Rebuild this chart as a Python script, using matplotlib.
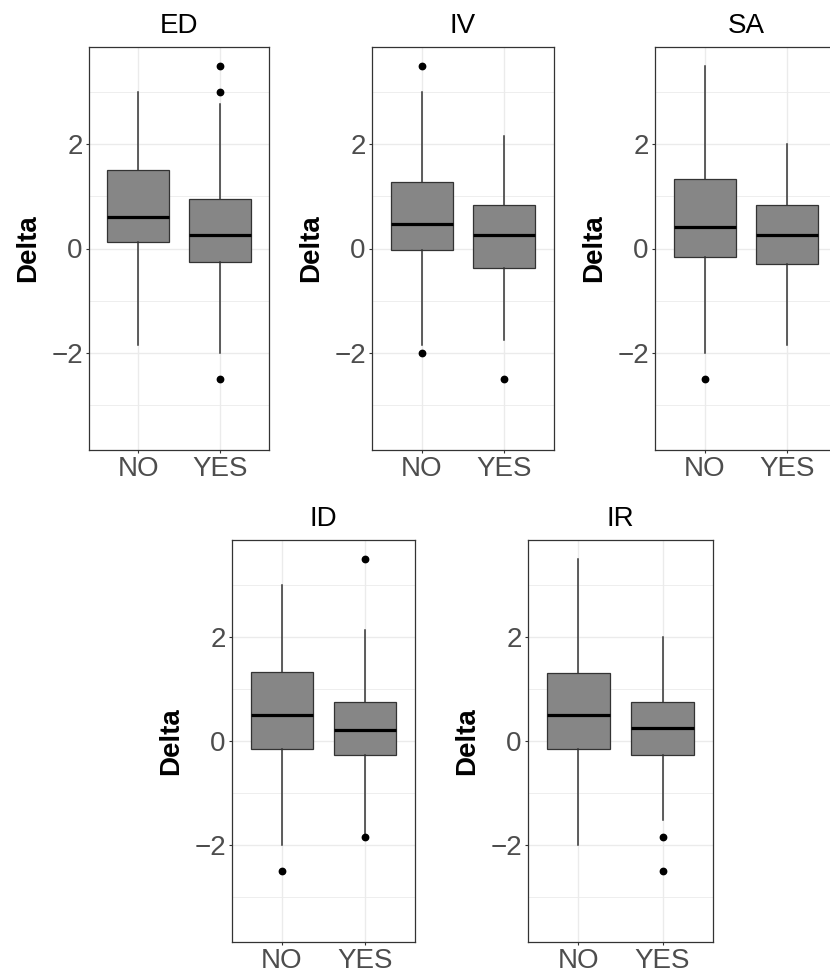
import numpy as np
import matplotlib
matplotlib.use("Agg")
import matplotlib.pyplot as plt

plt.rcParams['font.family'] = ['Liberation Sans', 'DejaVu Sans']

# panel names and groups
panels = ['ED', 'IV', 'SA', 'ID', 'IR']
groups = ['NO', 'YES']

# box statistics (one entry per panel)
whislo_no = [-1.84, -1.84, -2.0, -2.0, -2.0]
q1_no = [0.12, -0.02, -0.17, -0.16, -0.16]
med_no = [0.60, 0.47, 0.42, 0.50, 0.50]
q3_no = [1.50, 1.27, 1.33, 1.32, 1.31]
whishi_no = [3.0, 3.0, 3.5, 3.0, 3.5]
fliers_no = [[], [3.5, -2.0], [-2.5], [-2.5], []]

whislo_yes = [-2.0, -1.76, -1.84, -1.80, -1.51]
q1_yes = [-0.26, -0.38, -0.30, -0.26, -0.26]
med_yes = [0.25, 0.25, 0.25, 0.22, 0.25]
q3_yes = [0.95, 0.83, 0.83, 0.75, 0.75]
whishi_yes = [2.76, 2.15, 2.0, 2.13, 2.0]
fliers_yes = [[3.5, 3.0, -2.5], [-2.5], [], [3.5, -1.85], [-1.85, -2.5]]

W, H = 830, 974
fig = plt.figure(figsize=(W / 100, H / 100), dpi=100)

# axes boxes in pixels: left, top, right, bottom
boxes_px = [
    (89, 47, 269, 450),
    (372, 47, 554, 450),
    (655, 47, 837, 450),
    (232, 540, 415, 942),
    (528, 540, 713, 942),
]

fill = '#868686'
edge = '#333333'
grid_c = '#EBEBEB'
text_gray = '#4D4D4D'

for i, name in enumerate(panels):
    l, t, r, b = boxes_px[i]
    ax = fig.add_axes([l / W, 1 - b / H, (r - l) / W, (b - t) / H])

    stats = [
        dict(whislo=whislo_no[i], q1=q1_no[i], med=med_no[i], q3=q3_no[i],
             whishi=whishi_no[i], fliers=fliers_no[i]),
        dict(whislo=whislo_yes[i], q1=q1_yes[i], med=med_yes[i], q3=q3_yes[i],
             whishi=whishi_yes[i], fliers=fliers_yes[i]),
    ]
    ax.bxp(stats, positions=[1, 2], widths=0.75, patch_artist=True,
           showcaps=False,
           boxprops=dict(facecolor=fill, edgecolor=edge, linewidth=0.9),
           medianprops=dict(color='black', linewidth=2.3, solid_capstyle='butt'),
           whiskerprops=dict(color=edge, linewidth=1.1),
           flierprops=dict(marker='o', markerfacecolor='black',
                           markeredgecolor='black', markersize=4.6))

    ax.set_xlim(0.4, 2.6)
    ax.set_ylim(-3.86, 3.86)
    ax.set_yticks([-2, 0, 2])
    ax.set_yticklabels(['\u22122', '0', '2'])
    ax.set_yticks([-3, -1, 1, 3], minor=True)
    ax.set_xticks([1, 2])
    ax.set_xticklabels(groups)

    ax.grid(True, which='major', color=grid_c, linewidth=1.0)
    ax.grid(True, which='minor', axis='y', color=grid_c, linewidth=0.6)
    ax.set_axisbelow(True)

    for s in ax.spines.values():
        s.set_color(edge)
        s.set_linewidth(0.9)
    ax.tick_params(which='major', length=2.5, width=0.8, color=edge,
                   labelcolor=text_gray, labelsize=20, pad=2)
    ax.tick_params(which='minor', length=0)

    ax.set_title(name, fontsize=20, color='black', pad=10)
    ax.set_ylabel('Delta', fontsize=20, fontweight='bold', labelpad=7)

fig.savefig('out.png', dpi=100)
